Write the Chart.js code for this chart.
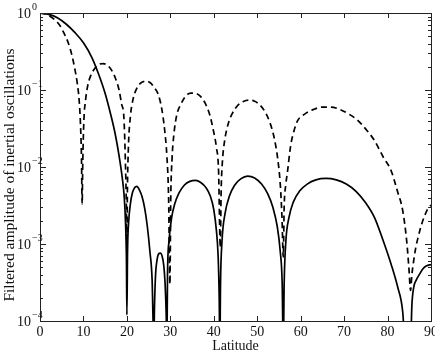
<!DOCTYPE html>
<html>
<head>
<meta charset="utf-8">
<script src="https://cdn.jsdelivr.net/npm/chart.js@4.4.1/dist/chart.umd.min.js"></script>
<style>
  html, body { margin: 0; padding: 0; background: #fff; }
  #wrap { width: 435px; height: 352px; position: relative; }
</style>
</head>
<body>
<div id="wrap"><canvas id="chart"></canvas></div>
<script>
// Solid curve (latitude in degrees, filtered amplitude)
const solidLat = [0, 2, 4, 6, 8, 10, 12, 13.5, 15, 16.2, 17.3, 18.2, 18.9, 19.4, 19.7, 19.9, 20.0,
  20.15, 20.4, 20.8, 21.3, 21.8, 22.3, 22.9, 23.5, 24.1, 24.7, 25.3, 25.8, 26.2,
  26.35, 26.6, 26.9, 27.3, 27.7, 28.1, 28.5, 28.8, 29.05, 29.2,
  29.35, 29.7, 30.3, 31.0, 32.0, 33.2, 34.5, 35.8, 37.0, 38.2, 39.2, 40.0, 40.6, 41.0, 41.25, 41.4,
  41.55, 41.9, 42.6, 43.6, 44.8, 46.2, 47.8, 49.4, 51.0, 52.4, 53.6, 54.6, 55.3, 55.75, 56.0,
  56.2, 56.6, 57.3, 58.3, 59.8, 61.5, 63.5, 65.8, 68.2, 70.5, 72.8, 75.0, 77.0, 79.0, 80.8, 82.3, 83.5, 84.1,
  85.3, 85.6, 86.0, 86.6, 87.3, 88.2, 89.0, 90];
const solidAmp = [1, 0.96, 0.87, 0.72, 0.56, 0.41, 0.26, 0.16, 0.09, 0.05, 0.027, 0.014, 0.0075, 0.004, 0.0018, 0.0006, 0.00012,
  0.0008, 0.0019, 0.0033, 0.0047, 0.0054, 0.0056, 0.005, 0.0041, 0.0029, 0.0017, 0.0008, 0.00035, 0.00005,
  0.00015, 0.0004, 0.0006, 0.00074, 0.00076, 0.0007, 0.00052, 0.0003, 0.00012, 0.00004,
  0.0004, 0.0011, 0.0022, 0.0033, 0.0046, 0.0058, 0.0065, 0.0067, 0.0063, 0.0054, 0.0042, 0.0028, 0.0015, 0.0007, 0.0002, 0.00004,
  0.0003, 0.0011, 0.0025, 0.0042, 0.0058, 0.007, 0.0076, 0.0072, 0.006, 0.0045, 0.003, 0.0017, 0.0008, 0.0003, 0.00004,
  0.0003, 0.0011, 0.0022, 0.0035, 0.0049, 0.006, 0.0068, 0.0071, 0.0068, 0.006, 0.0048, 0.0034, 0.0022, 0.0011, 0.00055, 0.00028, 0.00013, 0.00004,
  0.00005, 0.00016, 0.00027, 0.00034, 0.0004, 0.00048, 0.00052, 0.00054];

// Dashed curve
const dashLat = [0, 1.5, 3, 4.5, 5.5, 6.5, 7.3, 8.0, 8.6, 9.0, 9.3, 9.55, 9.7,
  9.85, 10.1, 10.5, 11.0, 11.7, 12.6, 13.6, 14.5, 15.5, 16.5, 17.4, 18.2, 18.8, 19.3, 19.65, 19.9, 20.0,
  20.1, 20.35, 20.8, 21.4, 22.2, 23.1, 24.2, 25.3, 26.3, 27.2, 28.0, 28.7, 29.2, 29.6, 29.9,
  30.1, 30.4, 30.8, 31.5, 32.4, 33.5, 34.7, 35.9, 37.0, 38.1, 39.1, 39.9, 40.6, 41.1, 41.5,
  41.7, 42.0, 42.5, 43.3, 44.3, 45.5, 46.8, 48.0, 49.3, 50.6, 51.8, 52.9, 53.9, 54.7, 55.3, 55.7, 56.0,
  56.2, 56.6, 57.0, 57.7, 58.5, 59.3, 61.0, 63.0, 65.0, 67.0, 69.0, 71.0, 73.0, 75.0, 77.0, 79.0, 80.8, 82.3, 83.5, 84.4, 84.9, 85.3,
  85.6, 86.0, 86.5, 87.0, 87.7, 88.5, 89.3, 90];
const dashAmp = [1, 0.96, 0.85, 0.7, 0.55, 0.41, 0.29, 0.19, 0.12, 0.075, 0.038, 0.013, 0.0033,
  0.012, 0.04, 0.075, 0.115, 0.155, 0.19, 0.215, 0.22, 0.21, 0.18, 0.14, 0.1, 0.065, 0.045, 0.012, 0.0025, 0.00076,
  0.004, 0.018, 0.045, 0.075, 0.103, 0.122, 0.13, 0.125, 0.108, 0.088, 0.058, 0.03, 0.014, 0.004, 0.0003,
  0.004, 0.013, 0.026, 0.048, 0.065, 0.083, 0.091, 0.09, 0.082, 0.066, 0.047, 0.03, 0.018, 0.009, 0.0009,
  0.005, 0.012, 0.022, 0.036, 0.05, 0.063, 0.071, 0.074, 0.072, 0.064, 0.052, 0.038, 0.024, 0.013, 0.006, 0.0022, 0.00068,
  0.003, 0.006, 0.009, 0.019, 0.03, 0.04, 0.049, 0.056, 0.06, 0.06, 0.056, 0.049, 0.041, 0.031, 0.022, 0.0135, 0.009, 0.0048, 0.0027, 0.0011, 0.0005, 0.00025,
  0.0004, 0.0006, 0.0009, 0.0012, 0.0017, 0.0023, 0.0029, 0.0032];

const xTicks = [0, 10, 20, 30, 40, 50, 60, 70, 80, 90];
const yExponents = [0, -1, -2, -3, -4];

const serif = '"Liberation Serif", "DejaVu Serif", serif';

// Frame, inward ticks and labels drawn on the library's scales
const axesPlugin = {
  id: 'matlabAxes',
  afterDraw(chart) {
    const { ctx, chartArea: a, scales: { x, y } } = chart;
    ctx.save();
    ctx.strokeStyle = '#222';
    ctx.lineWidth = 1;
    ctx.strokeRect(Math.round(a.left) + 0.5, Math.round(a.top) + 0.5,
      Math.round(a.right - a.left), Math.round(a.bottom - a.top));

    ctx.beginPath();
    xTicks.forEach(v => {
      const px = Math.round(x.getPixelForValue(v)) + 0.5;
      ctx.moveTo(px, a.bottom); ctx.lineTo(px, a.bottom - 5);
      ctx.moveTo(px, a.top); ctx.lineTo(px, a.top + 5);
    });
    yExponents.forEach(e => {
      for (let m = 1; m <= 9; m++) {
        const v = m * Math.pow(10, e);
        if (v > 1.0001) continue;
        const py = Math.round(y.getPixelForValue(v)) + 0.5;
        const len = m === 1 ? 6 : 3;
        ctx.moveTo(a.left, py); ctx.lineTo(a.left + len, py);
        ctx.moveTo(a.right, py); ctx.lineTo(a.right - len, py);
      }
    });
    ctx.stroke();

    ctx.fillStyle = '#111';
    ctx.font = '14px ' + serif;
    ctx.textAlign = 'center';
    ctx.textBaseline = 'top';
    xTicks.forEach(v => ctx.fillText(String(v), x.getPixelForValue(v), a.bottom + 4));

    yExponents.forEach(e => {
      const py = y.getPixelForValue(Math.pow(10, e));
      ctx.font = '14px ' + serif;
      ctx.textAlign = 'right';
      ctx.textBaseline = 'middle';
      ctx.fillText('10', a.left - 9, py + 1);
      ctx.font = '10px ' + serif;
      ctx.textAlign = 'left';
      ctx.fillText(e === 0 ? '0' : '\u2212' + (-e), a.left - 8, py - 6);
    });

    ctx.font = '14px ' + serif;
    ctx.textAlign = 'center';
    ctx.textBaseline = 'top';
    ctx.fillText('Latitude', (a.left + a.right) / 2, a.bottom + 18);

    ctx.font = '15.5px ' + serif;
    ctx.translate(10, 175);
    ctx.rotate(-Math.PI / 2);
    ctx.textBaseline = 'middle';
    ctx.fillText('Filtered amplitude of inertial oscillations', 0, 0);
    ctx.restore();
  }
};

const toPoints = (xs, ys) => xs.map((v, i) => ({ x: v, y: ys[i] }));

new Chart(document.getElementById('chart').getContext('2d'), {
  type: 'line',
  data: {
    datasets: [
      {
        label: 'solid',
        data: toPoints(solidLat, solidAmp),
        borderColor: '#000',
        borderWidth: 1.7,
        pointRadius: 0,
        cubicInterpolationMode: 'monotone',
        fill: false
      },
      {
        label: 'dashed',
        data: toPoints(dashLat, dashAmp),
        borderColor: '#000',
        borderWidth: 1.7,
        borderDash: [6, 4],
        pointRadius: 0,
        cubicInterpolationMode: 'monotone',
        fill: false
      }
    ]
  },
  options: {
    responsive: true,
    maintainAspectRatio: false,
    animation: false,
    layout: { padding: { left: 40, right: 4, top: 13, bottom: 31 } },
    plugins: { legend: { display: false }, tooltip: { enabled: false } },
    scales: {
      x: { type: 'linear', min: 0, max: 90, display: false },
      y: { type: 'logarithmic', min: 1e-4, max: 1, display: false }
    }
  },
  plugins: [axesPlugin]
});
</script>
</body>
</html>
